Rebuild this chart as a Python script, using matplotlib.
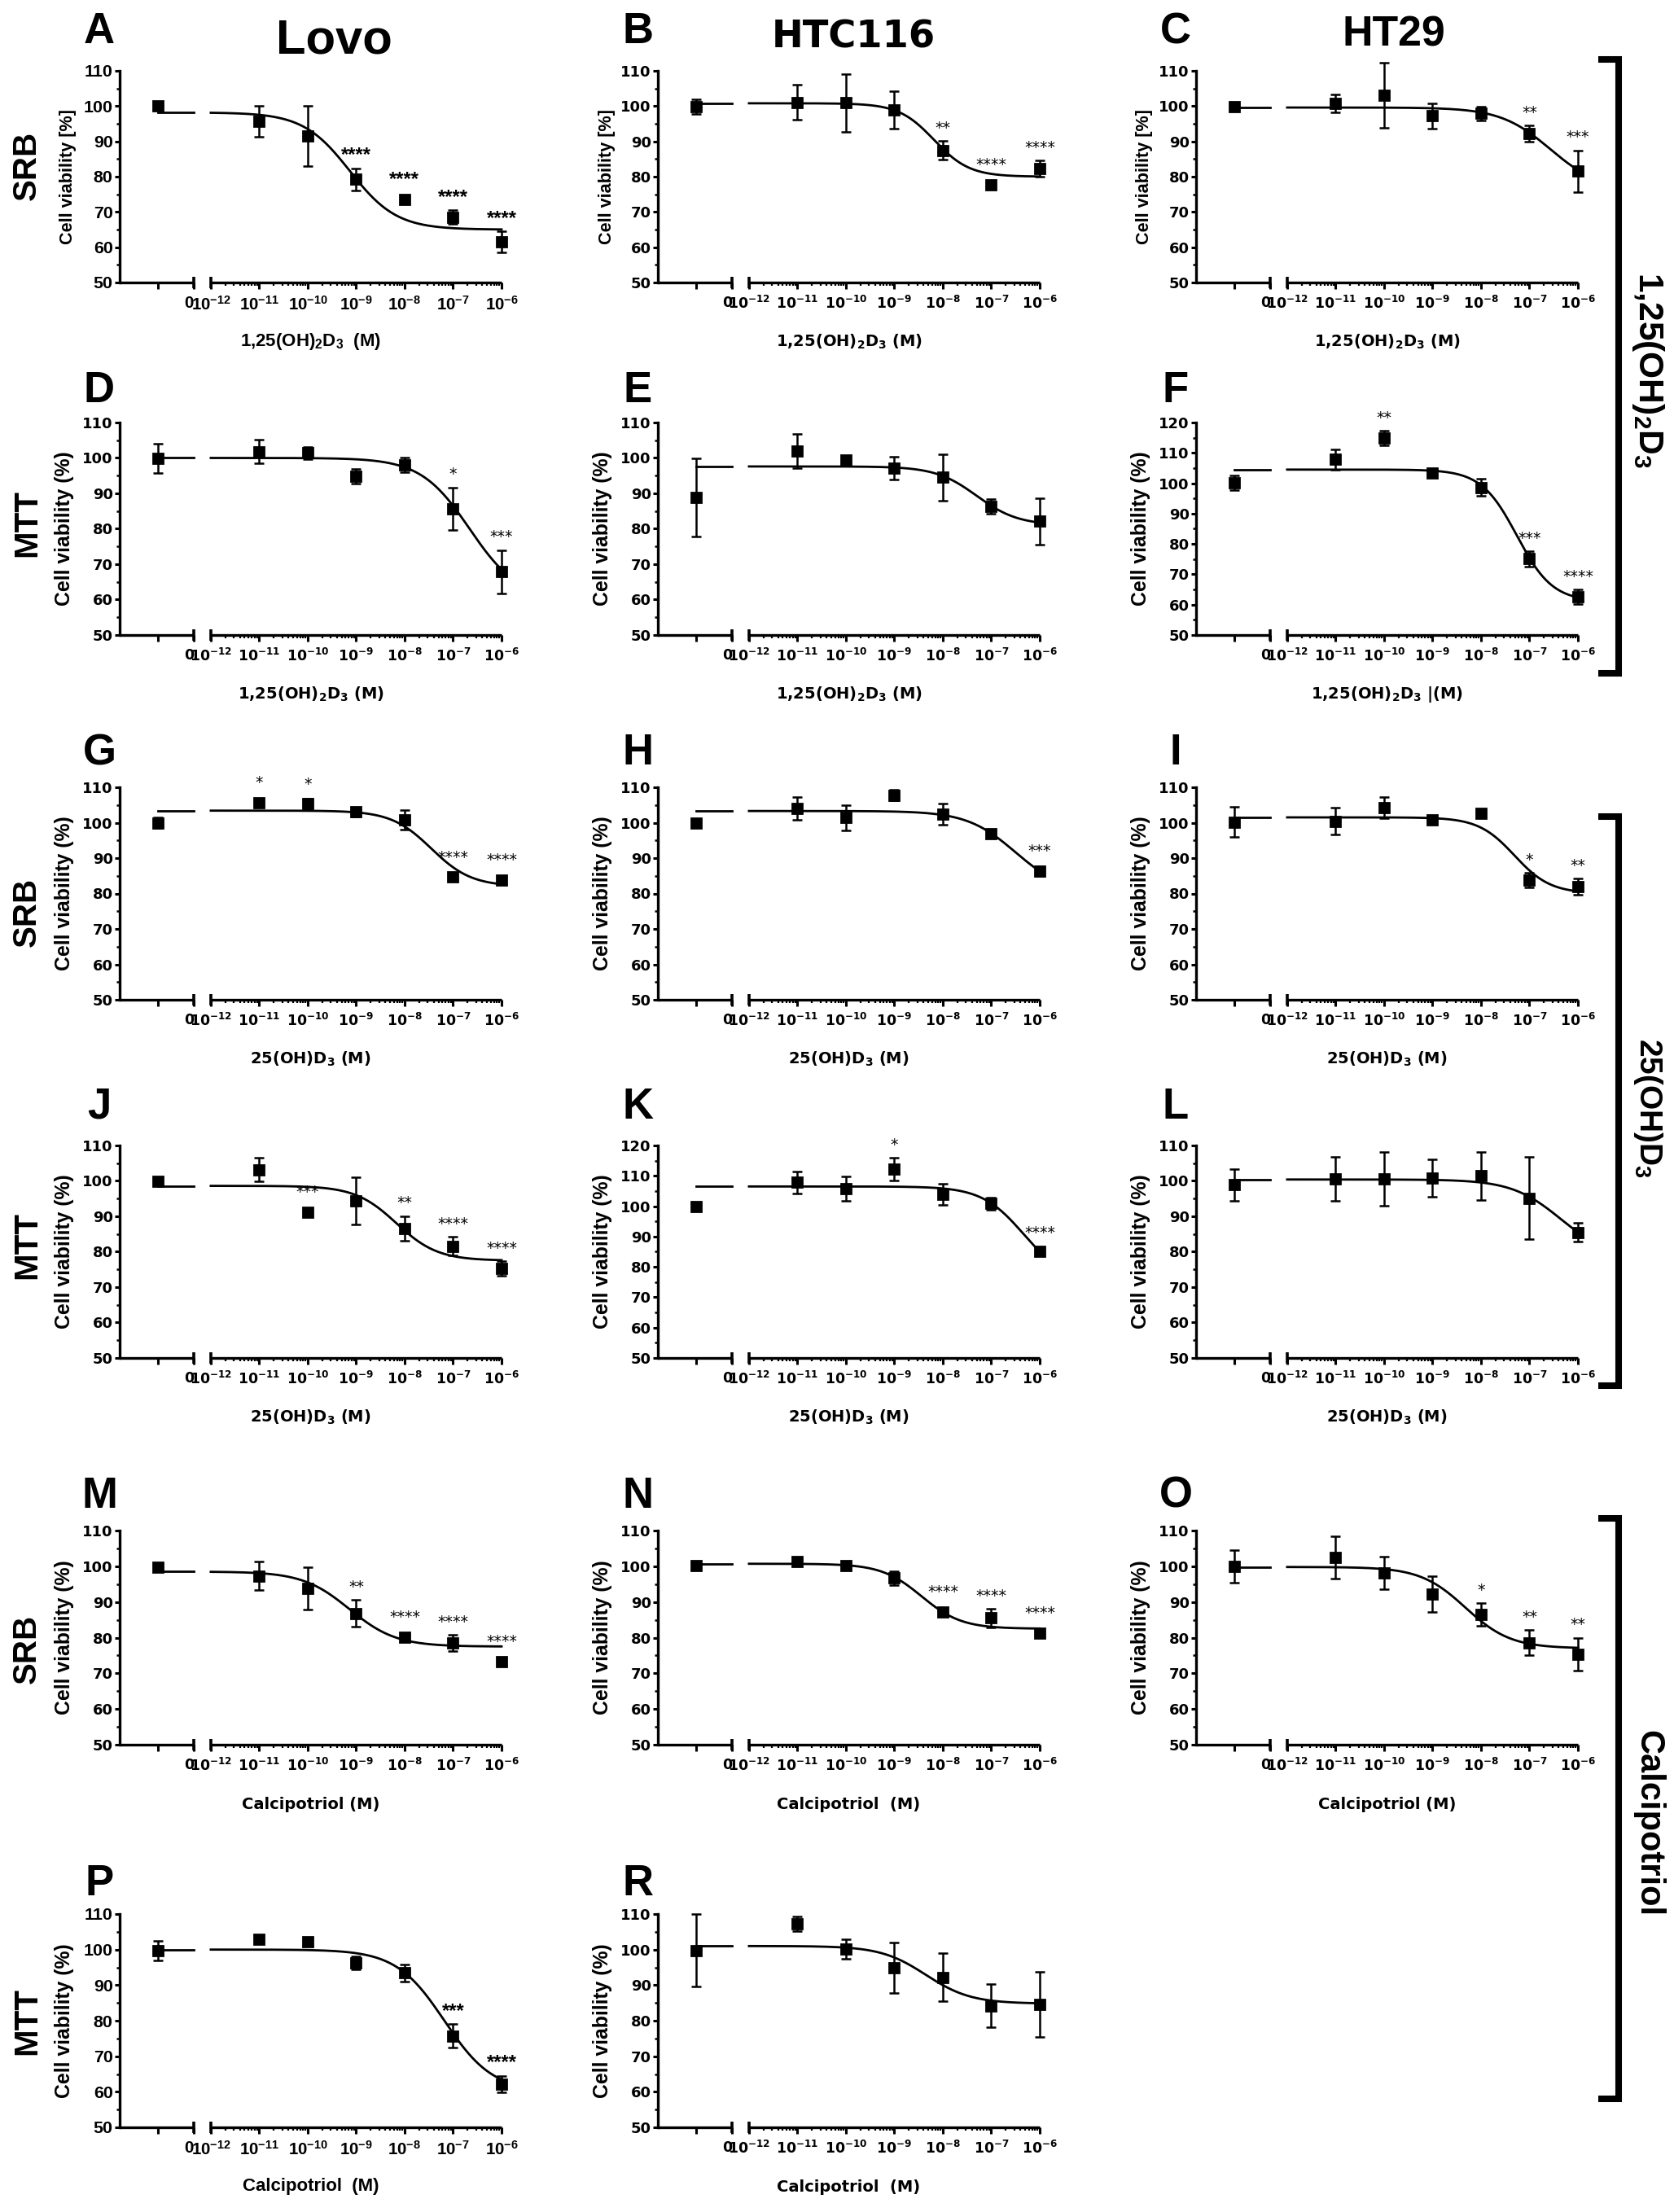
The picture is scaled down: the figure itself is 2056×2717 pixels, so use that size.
import numpy as np
import matplotlib.pyplot as plt
from matplotlib.lines import Line2D

W, H = 2056, 2717
DPI = 200

# concentrations of the treated wells (M)
doses = [1e-11, 1e-10, 1e-9, 1e-8, 1e-7, 1e-6]

# control = [mean, sem]; fit = [top, bottom, logEC50, hill]
ctrl_A = [100.0, 1.0]
mean_A = [95.7, 91.5, 79.2, 73.5, 68.5, 61.6]
sem_A = [4.4, 8.5, 3.2, 0, 2.0, 3.0]
sig_A = ['', '', '****', '****', '****', '****']
fit_A = [98.2, 65.0, -9.13, 0.90]

ctrl_B = [99.8, 2.1]
mean_B = [101.1, 100.9, 98.9, 87.5, 77.7, 82.3]
sem_B = [4.9, 8.2, 5.3, 2.6, 0, 2.4]
sig_B = ['', '', '', '**', '****', '****']
fit_B = [100.8, 80.0, -8.18, 1.19]

ctrl_C = [99.9, 0]
mean_C = [100.7, 103.1, 97.2, 97.9, 92.3, 81.6]
sem_C = [2.5, 9.3, 3.6, 1.9, 2.3, 5.9]
sig_C = ['', '', '', '', '**', '***']
fit_C = [99.6, 76.0, -6.57, 0.84]

ctrl_D = [99.9, 4.2]
mean_D = [101.8, 101.4, 94.8, 98.0, 85.7, 67.9]
sem_D = [3.4, 1.7, 2.0, 2.0, 6.0, 6.1]
sig_D = ['', '', '', '', '*', '***']
fit_D = [100.0, 60.0, -6.66, 0.86]

ctrl_E = [88.8, 11.0]
mean_E = [101.9, 99.4, 97.2, 94.5, 86.3, 82.1]
sem_E = [4.8, 1.0, 3.2, 6.5, 2.0, 6.6]
sig_E = ['', '', '', '', '', '']
fit_E = [97.6, 81.0, -7.30, 1.02]

ctrl_F = [100.1, 2.4]
mean_F = [107.8, 114.9, 103.4, 98.6, 75.1, 62.6]
sem_F = [3.3, 2.5, 0.8, 2.8, 2.5, 2.3]
sig_F = ['', '**', '', '', '***', '****']
fit_F = [104.5, 61.0, -7.26, 1.18]

ctrl_G = [99.9, 1.5]
mean_G = [105.7, 105.3, 103.0, 100.8, 84.6, 83.8]
sem_G = [0, 1.5, 1.2, 2.7, 0, 0]
sig_G = ['*', '*', '', '', '****', '****']
fit_G = [103.4, 82.0, -7.45, 1.05]

ctrl_H = [100.0, 0]
mean_H = [104.1, 101.4, 107.8, 102.5, 96.8, 86.3]
sem_H = [3.2, 3.5, 1.5, 3.0, 1.0, 1.3]
sig_H = ['', '', '', '', '', '***']
fit_H = [103.3, 80.0, -6.50, 0.86]

ctrl_I = [100.2, 4.3]
mean_I = [100.4, 104.2, 100.7, 102.6, 83.8, 81.9]
sem_I = [3.8, 3.0, 0.7, 0, 2.0, 2.3]
sig_I = ['', '', '', '', '*', '**']
fit_I = [101.5, 80.0, -7.31, 1.17]

ctrl_J = [99.8, 0]
mean_J = [103.2, 91.2, 94.4, 86.6, 81.6, 75.3]
sem_J = [3.4, 0, 6.7, 3.5, 2.6, 2.0]
sig_J = ['', '***', '', '**', '****', '****']
fit_J = [98.6, 77.5, -8.17, 1.02]

ctrl_K = [99.9, 0]
mean_K = [107.8, 105.7, 112.2, 104.0, 100.9, 85.1]
sem_K = [3.5, 4.0, 3.8, 3.5, 2.0, 0.8]
sig_K = ['', '', '*', '', '', '****']
fit_K = [106.5, 75.0, -6.33, 1.0]

ctrl_L = [98.9, 4.5]
mean_L = [100.5, 100.5, 100.8, 101.4, 95.1, 85.5]
sem_L = [6.2, 7.6, 5.3, 6.7, 11.6, 2.7]
sig_L = ['', '', '', '', '', '']
fit_L = [100.4, 78.0, -6.35, 0.85]

ctrl_M = [99.8, 0]
mean_M = [97.3, 93.8, 86.8, 80.1, 78.5, 73.3]
sem_M = [4.0, 6.0, 3.8, 0, 2.2, 0]
sig_M = ['', '', '**', '****', '****', '****']
fit_M = [98.5, 77.5, -9.14, 0.90]

ctrl_N = [100.1, 0]
mean_N = [101.4, 100.3, 96.7, 87.1, 85.5, 81.3]
sem_N = [0, 0, 2.0, 0, 2.6, 0]
sig_N = ['', '', '', '****', '****', '****']
fit_N = [100.7, 82.5, -8.44, 1.05]

ctrl_O = [100.0, 4.5]
mean_O = [102.5, 98.2, 92.2, 86.5, 78.6, 75.4]
sem_O = [6.0, 4.6, 5.0, 3.2, 3.5, 4.6]
sig_O = ['', '', '', '*', '**', '**']
fit_O = [99.8, 77.0, -8.32, 0.93]

ctrl_P = [99.7, 2.7]
mean_P = [102.8, 102.3, 96.2, 93.4, 75.7, 62.2]
sem_P = [0, 1.0, 1.8, 2.5, 3.3, 2.3]
sig_P = ['', '', '', '', '***', '****']
fit_P = [100.0, 60.0, -7.18, 0.87]

ctrl_R = [99.8, 10.2]
mean_R = [107.3, 100.2, 94.9, 92.2, 84.2, 84.6]
sem_R = [2.0, 2.8, 7.0, 6.7, 6.0, 9.1]
sig_R = ['', '', '', '', '', '']
fit_R = [101.0, 84.8, -8.35, 0.93]

cell_lines = ['Lovo', 'HTC116', 'HT29']
assays = ['SRB', 'MTT', 'SRB', 'MTT', 'SRB', 'MTT']
compounds = [r'1,25$\mathdefault{(OH)_2D_3}$', r'25$\mathdefault{(OH)D_3}$', 'Calcipotriol']

panel_grid = [['A', 'B', 'C'], ['D', 'E', 'F'], ['G', 'H', 'I'],
              ['J', 'K', 'L'], ['M', 'N', 'O'], ['P', 'R', None]]
ymax_of = {'F': 120, 'K': 120}

g = globals()
panel_data = {k: dict(ctrl=g['ctrl_' + k], mean=g['mean_' + k], sem=g['sem_' + k],
                      sig=g['sig_' + k], fit=g['fit_' + k])
              for row in panel_grid for k in row if k}

xlabels = {
    'A': r'1,25$\mathdefault{(OH)_2D_3}$  (M)',
    'F': r'1,25$\mathdefault{(OH)_2D_3}$ |(M)',
    'N': 'Calcipotriol  (M)', 'P': 'Calcipotriol  (M)', 'R': 'Calcipotriol  (M)',
}

# layout in pixels
col_x = [147, 808, 1469]
row_top = [87, 519, 967, 1407, 1880, 2351]
row_bot = [347, 780, 1228, 1668, 2143, 2613]
letter_y = [39, 480, 925, 1360, 1838, 2314]
rowlab_y = [203, 643, 1120, 1530, 2025, 2483]
AX_W = 469

X0 = -13.88
CTRL_X = -13.09
BRK_L = -12.35
BRK_R = -12.0

NARROW = 'Liberation Sans'
WIDE = 'DejaVu Sans'


def logistic(x, top, bottom, logec50, hill):
    return bottom + (top - bottom) / (1 + 10 ** ((np.asarray(x) - logec50) * hill))


def fx(x):
    return x / W


def fy(y):
    return 1 - y / H


fig = plt.figure(figsize=(W / DPI, H / DPI), dpi=DPI)


def draw_panel(key, col, row):
    d = panel_data[key]
    narrow = key in ('A', 'P')
    fam = NARROW if narrow else WIDE
    tsize = 7.4 if narrow else 6.2
    ymax = ymax_of.get(key, 110)
    hpx = row_bot[row] - row_top[row]
    ax = fig.add_axes([fx(col_x[col]), fy(row_bot[row]), AX_W / W, hpx / H])
    ax.set_xlim(X0, -6.0)
    ax.set_ylim(50, ymax)
    for s in ('top', 'right', 'bottom'):
        ax.spines[s].set_visible(False)
    ax.spines['left'].set_linewidth(1.2)

    # broken x axis
    xt = ax.get_xaxis_transform()
    ax.plot([X0, BRK_L], [0, 0], transform=xt, color='k', lw=1.2,
            clip_on=False, solid_capstyle='butt')
    ax.plot([BRK_R, -6.0], [0, 0], transform=xt, color='k', lw=1.2,
            clip_on=False, solid_capstyle='butt')
    ax.plot([BRK_L, BRK_R], [0, 0], transform=xt, ls='none', marker='|',
            ms=5, mew=1.3, color='k', clip_on=False)

    decades = list(range(-12, -5))
    xt_pos = [CTRL_X, BRK_L] + decades
    xt_lab = ['', '0'] + [r'$\mathdefault{10^{%d}}$' % p for p in decades]
    ax.set_xticks(xt_pos, xt_lab, fontsize=tsize, fontweight='bold', family=fam)
    ax.xaxis.get_major_ticks()[1].label1.set_horizontalalignment('right')
    minor = [p + np.log10(k) for p in decades[:-1] for k in range(2, 10)]
    ax.set_xticks(minor, minor=True)
    yt = list(range(50, ymax + 1, 10))
    ax.set_yticks(yt, [str(v) for v in yt], fontsize=tsize + 0.3,
                  fontweight='bold', family=fam)
    ax.set_yticks(list(range(55, ymax, 10)), minor=True)
    ax.tick_params(axis='x', which='major', length=2.9, width=1.1, pad=3.0)
    ax.tick_params(axis='x', which='minor', length=1.5, width=0.8)
    ax.tick_params(axis='y', which='major', length=2.2, width=1.1, pad=0.8)
    ax.tick_params(axis='y', which='minor', length=1.3, width=0.9)

    # fitted curve
    top, bottom, lec, hill = d['fit']
    xs = np.linspace(BRK_R, -6.0, 300)
    ax.plot(xs, logistic(xs, top, bottom, lec, hill), color='k', lw=1.0,
            clip_on=False)
    plateau = float(logistic(-30, top, bottom, lec, hill))
    ax.plot([CTRL_X, BRK_L], [plateau, plateau], color='k', lw=1.0)

    # points
    lx = np.log10(doses)
    px = np.concatenate([[CTRL_X], lx])
    py = np.concatenate([[d['ctrl'][0]], d['mean']])
    pe = np.concatenate([[d['ctrl'][1]], d['sem']])
    m = pe > 0
    eb = ax.errorbar(px[m], py[m], yerr=pe[m], fmt='none', ecolor='k',
                     elinewidth=0.9, capsize=2.3, capthick=0.9)
    for art in eb.get_children():
        art.set_clip_on(False)
    ax.plot(px, py, 's', color='k', ms=4, clip_on=False, zorder=3)

    span = ymax - 50
    ssize, sweight = (8.6, 'bold') if narrow else (6.8, 'normal')
    for x, y, e, s in zip(lx, d['mean'], d['sem'], d['sig']):
        if s:
            ax.text(x, y + max(e, 2.0) + 0.06 * span, s, ha='center', va='center',
                    fontsize=ssize, fontweight=sweight, family=fam, clip_on=False)

    # axis titles
    ylab = 'Cell viability [%]' if row == 0 else 'Cell viability (%)'
    ax.text((-63 if row == 0 else -68) / AX_W, 0.5, ylab, transform=ax.transAxes,
            rotation=90, ha='center', va='center', fontsize=7.8 if row == 0 else 8.9,
            fontweight='bold', family=NARROW)
    xlab = xlabels.get(key, compounds[row // 2] + ' (M)')
    ax.text(0.5, -73 / hpx, xlab, transform=ax.transAxes, ha='center', va='center',
            fontsize=8.0 if narrow else 7.0, fontweight='bold', family=fam)

    fig.text(fx(col_x[col] - 25), fy(letter_y[row]), key, ha='center', va='center',
             fontsize=19, fontweight='bold', family=NARROW)


for r, row in enumerate(panel_grid):
    for c, key in enumerate(row):
        if key:
            draw_panel(key, c, r)

for r, name in enumerate(assays):
    fig.text(fx(33), fy(rowlab_y[r]), name, rotation=90, ha='center', va='center',
             fontsize=14.5, fontweight='bold', family=NARROW)

fig.text(fx(410), fy(50), cell_lines[0], ha='center', va='center',
         fontsize=21.5, fontweight='bold', family=NARROW)
fig.text(fx(1048), fy(46), cell_lines[1], ha='center', va='center',
         fontsize=16.7, fontweight='bold', family=WIDE)
fig.text(fx(1712), fy(43), cell_lines[2], ha='center', va='center',
         fontsize=18.7, fontweight='bold', family=NARROW)

# brackets grouping the compounds
BX = 1988
brackets = [(73, 827, 455, 15.3), (1003, 1702, 1361, 14.0), (1865, 2578, 2240, 15.0)]
for (y0, y1, ty, fs), name in zip(brackets, compounds):
    fig.add_artist(Line2D([fx(BX - 25), fx(BX), fx(BX), fx(BX - 25)],
                          [fy(y0), fy(y0), fy(y1), fy(y1)], transform=fig.transFigure,
                          color='k', lw=2.9, solid_joinstyle='miter',
                          solid_capstyle='butt'))
    fig.text(fx(2024), fy(ty), name, rotation=270, ha='center', va='center',
             fontsize=fs, fontweight='bold', family=NARROW)

fig.savefig('out.png', dpi=DPI, facecolor='white')
